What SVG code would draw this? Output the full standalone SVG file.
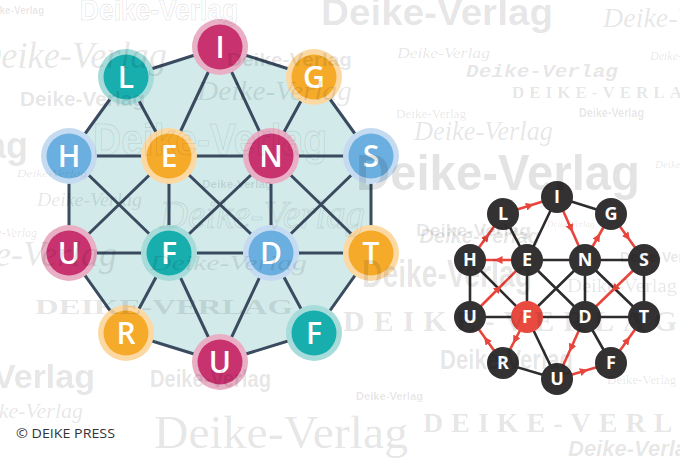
<svg xmlns="http://www.w3.org/2000/svg" width="680" height="458" viewBox="0 0 680 458">
<style>
.edge{stroke:#3A4A5F;stroke-width:3;fill:none;stroke-linecap:round}
.poly{fill:#D2EAEA}
.mag .o{fill:#E8AFC5}.mag .i{fill:#C8326F}
.teal .o{fill:#A7DCDB}.teal .i{fill:#18AEAE}
.org .o{fill:#FCD9A3}.org .i{fill:#F6AA2A}
.blu .o{fill:#C5DBF1}.blu .i{fill:#6AAFDF}
.lt{font-family:"Open Sans","Liberation Sans",sans-serif;font-weight:600;font-size:30px;fill:#fff;text-anchor:middle}
.bk{stroke:#2E2C2D;stroke-width:2.6;fill:none}
.rd{stroke:#E8453C;stroke-width:2.6;fill:none;marker-mid:url(#ah)}
.rn{fill:#333132}
.rr{fill:#E84A3F}
.rt{font-family:"Open Sans","Liberation Sans",sans-serif;font-weight:700;font-size:18px;fill:#fff;text-anchor:middle}
.wm{fill:#000;fill-opacity:0.11}
.wo{fill:none;stroke:#000;stroke-opacity:0.1;stroke-width:1}
.sb{font-family:"Liberation Sans",Arial,sans-serif;font-weight:bold}
.si{font-family:"Liberation Serif","Times New Roman",serif;font-style:italic}
.sr{font-family:"Liberation Serif","Times New Roman",serif}
.sx{font-family:"Liberation Serif","Times New Roman",serif;font-weight:bold}
.sm{font-family:"Liberation Mono","Courier New",monospace;font-weight:bold;font-style:italic}
.bi{font-family:"Liberation Sans",Arial,sans-serif;font-weight:bold;font-style:italic}
.copy{font-family:"Open Sans","Liberation Sans",sans-serif;font-size:12px;fill:#333}
</style>
<defs>
<marker id="ah" viewBox="0 0 10 10" refX="5" refY="5" markerWidth="8" markerHeight="8" orient="auto" markerUnits="userSpaceOnUse">
<path d="M0,0 L10,5 L0,10 z" fill="#E8453C"/>
</marker>
</defs>
<rect width="680" height="458" fill="#fff"/>

<!-- left graph -->
<polygon class="poly" points="220,47 314,77 371,156 371,253 314,333 220,362 126,333 69,253 69,156 126,77"/>
<g id="left-connectors">
<path class="edge" d="M220,47L126,77 M220,47L314,77 M126,77L69,156 M314,77L371,156 M69,156L69,253 M371,156L371,253 M69,253L126,333 M371,253L314,333 M126,333L220,362 M220,362L314,333 M220,47L169,156 M220,47L271,156 M126,77L169,156 M314,77L271,156 M69,156L371,156 M69,253L371,253 M169,156L169,253 M271,156L271,253 M69,156L169,253 M169,156L69,253 M169,156L271,253 M271,156L169,253 M271,156L371,253 M371,156L271,253 M169,253L126,333 M169,253L220,362 M271,253L220,362 M271,253L314,333"/>
</g>
<g id="nI" class="mag"><circle class="o" cx="220" cy="47" r="28"/><circle class="i" cx="220" cy="47" r="22.5"/><text class="lt" x="220" y="57.7">I</text></g>
<g id="nL" class="teal"><circle class="o" cx="126" cy="77" r="28"/><circle class="i" cx="126" cy="77" r="22.5"/><text class="lt" x="126" y="87.7">L</text></g>
<g id="nG" class="org"><circle class="o" cx="314" cy="77" r="28"/><circle class="i" cx="314" cy="77" r="22.5"/><text class="lt" x="314" y="87.7">G</text></g>
<g id="nH" class="blu"><circle class="o" cx="69" cy="156" r="28"/><circle class="i" cx="69" cy="156" r="22.5"/><text class="lt" x="69" y="166.7">H</text></g>
<g id="nE" class="org"><circle class="o" cx="169" cy="156" r="28"/><circle class="i" cx="169" cy="156" r="22.5"/><text class="lt" x="169" y="166.7">E</text></g>
<g id="nN" class="mag"><circle class="o" cx="271" cy="156" r="28"/><circle class="i" cx="271" cy="156" r="22.5"/><text class="lt" x="271" y="166.7">N</text></g>
<g id="nS" class="blu"><circle class="o" cx="371" cy="156" r="28"/><circle class="i" cx="371" cy="156" r="22.5"/><text class="lt" x="371" y="166.7">S</text></g>
<g id="nU1" class="mag"><circle class="o" cx="69" cy="253" r="28"/><circle class="i" cx="69" cy="253" r="22.5"/><text class="lt" x="69" y="263.7">U</text></g>
<g id="nF1" class="teal"><circle class="o" cx="169" cy="253" r="28"/><circle class="i" cx="169" cy="253" r="22.5"/><text class="lt" x="169" y="263.7">F</text></g>
<g id="nD" class="blu"><circle class="o" cx="271" cy="253" r="28"/><circle class="i" cx="271" cy="253" r="22.5"/><text class="lt" x="271" y="263.7">D</text></g>
<g id="nT" class="org"><circle class="o" cx="371" cy="253" r="28"/><circle class="i" cx="371" cy="253" r="22.5"/><text class="lt" x="371" y="263.7">T</text></g>
<g id="nR" class="org"><circle class="o" cx="126" cy="333" r="28"/><circle class="i" cx="126" cy="333" r="22.5"/><text class="lt" x="126" y="343.7">R</text></g>
<g id="nU2" class="mag"><circle class="o" cx="220" cy="362" r="28"/><circle class="i" cx="220" cy="362" r="22.5"/><text class="lt" x="220" y="372.7">U</text></g>
<g id="nF2" class="teal"><circle class="o" cx="314" cy="333" r="28"/><circle class="i" cx="314" cy="333" r="22.5"/><text class="lt" x="314" y="343.7">F</text></g>

<!-- right graph -->
<g id="right-connectors">
<path class="bk" d="M557,197L611,214 M557,197L527,260 M503,214L527,260 M470,260L470,317 M527,260L644,260 M527,260L527,317 M585,260L585,317 M644,260L644,317 M470,317L644,317 M470,260L527,317 M527,260L585,317 M585,260L527,317 M585,260L644,317 M527,317L557,379 M503,363L557,379 M585,317L611,363"/>
<path class="rd" d="M527,317L515,340L503,363"/>
<path class="rd" d="M503,363L486.5,340L470,317"/>
<path class="rd" d="M470,317L498.5,288.5L527,260"/>
<path class="rd" d="M527,260L498.5,260L470,260"/>
<path class="rd" d="M470,260L486.5,237L503,214"/>
<path class="rd" d="M503,214L530,205.5L557,197"/>
<path class="rd" d="M557,197L571,228.5L585,260"/>
<path class="rd" d="M585,260L598,237L611,214"/>
<path class="rd" d="M611,214L627.5,237L644,260"/>
<path class="rd" d="M644,260L614.5,288.5L585,317"/>
<path class="rd" d="M585,317L571,348L557,379"/>
<path class="rd" d="M557,379L584,371L611,363"/>
<path class="rd" d="M611,363L627.5,340L644,317"/>
</g>
<g id="rI"><circle class="rn" cx="557" cy="197" r="16"/><text class="rt" x="557" y="203.4">I</text></g>
<g id="rL"><circle class="rn" cx="503" cy="214" r="16"/><text class="rt" x="503" y="220.4">L</text></g>
<g id="rG"><circle class="rn" cx="611" cy="214" r="16"/><text class="rt" x="611" y="220.4">G</text></g>
<g id="rH"><circle class="rn" cx="470" cy="260" r="16"/><text class="rt" x="470" y="266.4">H</text></g>
<g id="rE"><circle class="rn" cx="527" cy="260" r="16"/><text class="rt" x="527" y="266.4">E</text></g>
<g id="rN"><circle class="rn" cx="585" cy="260" r="16"/><text class="rt" x="585" y="266.4">N</text></g>
<g id="rS"><circle class="rn" cx="644" cy="260" r="16"/><text class="rt" x="644" y="266.4">S</text></g>
<g id="rU1"><circle class="rn" cx="470" cy="317" r="16"/><text class="rt" x="470" y="323.4">U</text></g>
<g id="rF1"><circle class="rr" cx="527" cy="317" r="16"/><text class="rt" x="527" y="323.4">F</text></g>
<g id="rD"><circle class="rn" cx="585" cy="317" r="16"/><text class="rt" x="585" y="323.4">D</text></g>
<g id="rT"><circle class="rn" cx="644" cy="317" r="16"/><text class="rt" x="644" y="323.4">T</text></g>
<g id="rR"><circle class="rn" cx="503" cy="363" r="16"/><text class="rt" x="503" y="369.4">R</text></g>
<g id="rU2"><circle class="rn" cx="557" cy="379" r="16"/><text class="rt" x="557" y="385.4">U</text></g>
<g id="rF2"><circle class="rn" cx="611" cy="363" r="16"/><text class="rt" x="611" y="369.4">F</text></g>

<!-- watermark -->
<g id="watermark">
<text class="wm sb" x="-16" y="14" font-size="10">Deike-Verlag</text>
<text class="wo sb" x="80" y="20" font-size="30" textLength="158" lengthAdjust="spacingAndGlyphs">Deike-Verlag</text>
<text class="wm sb" x="321" y="25" font-size="36" textLength="232" lengthAdjust="spacingAndGlyphs">Deike-Verlag</text>
<text class="wm si" x="603" y="27" font-size="28">Deike-Verlag</text>
<text class="wm si" x="-25" y="68" font-size="38" textLength="192" lengthAdjust="spacingAndGlyphs">Deike-Verlag</text>
<text class="wm si" x="397" y="58" font-size="14" textLength="93" lengthAdjust="spacingAndGlyphs">Deike-Verlag</text>
<text class="wm si" x="650" y="60" font-size="12">Deike-Verlag</text>
<text class="wm sm" x="466" y="77" font-size="19" textLength="152" lengthAdjust="spacingAndGlyphs">Deike-Verlag</text>
<text class="wm sx" x="512" y="98" font-size="17" letter-spacing="5">DEIKE-VERLAG</text>
<text class="wm sr" x="396" y="118" font-size="13" textLength="70" lengthAdjust="spacingAndGlyphs">Deike-Verlag</text>
<text class="wm sb" x="579" y="117" font-size="12" textLength="65" lengthAdjust="spacingAndGlyphs">Deike-Verlag</text>
<text class="wm si" x="414" y="140" font-size="28" textLength="139" lengthAdjust="spacingAndGlyphs">Deike-Verlag</text>
<text class="wm sb" x="356" y="190" font-size="50" textLength="284" lengthAdjust="spacingAndGlyphs">Deike-Verlag</text>
<text class="wm sb" x="28" y="158" font-size="36" text-anchor="end">Deike-Verlag</text>
<text class="wm si" x="655" y="168" font-size="11">Deike-Verlag</text>
<text class="wm si" x="17" y="177" font-size="11" textLength="70" lengthAdjust="spacingAndGlyphs">Deike-Verlag</text>
<text class="wm sb" x="202" y="188" font-size="11" textLength="70" lengthAdjust="spacingAndGlyphs">Deike-Verlag</text>
<text class="wm si" x="37" y="206" font-size="18" textLength="105" lengthAdjust="spacingAndGlyphs">Deike-Verlag</text>
<text class="wo si" x="160" y="228" font-size="40" textLength="205" lengthAdjust="spacingAndGlyphs">Deike-Verlag</text>
<text class="wm sb" x="227" y="66" font-size="18" textLength="125" lengthAdjust="spacingAndGlyphs">Deike-Verlag</text>
<text class="wm si" x="197" y="100" font-size="28" textLength="155" lengthAdjust="spacingAndGlyphs">Deike-Verlag</text>
<text class="wo sb" x="93" y="155" font-size="44" textLength="234" lengthAdjust="spacingAndGlyphs">Deike-Verlag</text>
<text class="wm sb" x="20" y="106" font-size="20" textLength="125" lengthAdjust="spacingAndGlyphs">Deike-Verlag</text>
<text class="wm sb" x="416" y="236" font-size="16" textLength="115" lengthAdjust="spacingAndGlyphs">Deike-Verlag</text>
<text class="wm si" x="547" y="227" font-size="9">Deike-Verlag</text>
<text class="wm bi" x="540" y="243" font-size="20" text-anchor="end">Deike-Verlag</text>
<text class="wm sb" x="620" y="262" font-size="14">Deike-Verlag</text>
<text class="wm si" x="117" y="266" font-size="36" text-anchor="end">Deike-Verlag</text>
<text class="wm si" x="37" y="237" font-size="12" text-anchor="end">Deike-Verlag</text>
<text class="wm si" x="150" y="270" font-size="20" textLength="157" lengthAdjust="spacingAndGlyphs">Deike-Verlag</text>
<text class="wm sb" x="362" y="287" font-size="38" textLength="170" lengthAdjust="spacingAndGlyphs">Deike-Verlag</text>
<text class="wm sr" x="567" y="292" font-size="18" textLength="110" lengthAdjust="spacingAndGlyphs">Deike-Verlag</text>
<text class="wm sx" x="35" y="314" font-size="22" textLength="258" lengthAdjust="spacingAndGlyphs">DEIKE-VERLAG</text>
<text class="wm sx" x="343" y="331" font-size="30" letter-spacing="9">DEIKE-VERLAG</text>
<text class="wm sb" x="440" y="369" font-size="28" textLength="133" lengthAdjust="spacingAndGlyphs">Deike-Verlag</text>
<text class="wm sb" x="150" y="387" font-size="24" textLength="121" lengthAdjust="spacingAndGlyphs">Deike-Verlag</text>
<text class="wm sb" x="95" y="388" font-size="34" text-anchor="end">Deike-Verlag</text>
<text class="wm sr" x="607" y="384" font-size="13">Deike-Verlag</text>
<text class="wm sb" x="356" y="400" font-size="11" textLength="67" lengthAdjust="spacingAndGlyphs">Deike-Verlag</text>
<text class="wm si" x="83" y="418" font-size="22" text-anchor="end">Deike-Verlag</text>
<text class="wm sr" x="154" y="448" font-size="46" textLength="254" lengthAdjust="spacingAndGlyphs">Deike-Verlag</text>
<text class="wm sx" x="423" y="432" font-size="28" letter-spacing="8">DEIKE-VERLAG</text>
<text class="wm bi" x="568" y="456" font-size="22">Deike-Verlag</text>
</g>

<text class="copy" x="16" y="438" textLength="99" lengthAdjust="spacingAndGlyphs">© DEIKE PRESS</text>
</svg>
